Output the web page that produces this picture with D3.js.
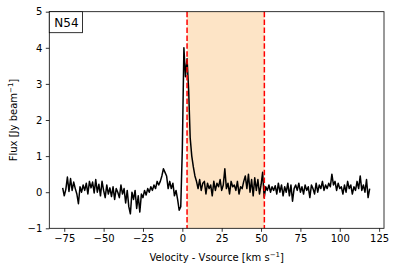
<!DOCTYPE html>
<html><head><meta charset="utf-8">
<script src="https://cdn.jsdelivr.net/npm/d3@7"></script>
<style>body{margin:0;background:#fff}svg{display:block;font-family:"DejaVu Sans",sans-serif}</style>
</head><body><svg id="c" width="395" height="272"></svg>
<script>
const velocity = [-76,-75,-74,-73,-72,-71,-70,-69,-68,-67,-66,-65,-64,-63,-62,-61,-60,-59,-58,-57,-56,-55,-54,-53,-52,-51,-50,-49,-48,-47,-46,-45,-44,-43,-42,-41,-40,-39,-38,-37,-36,-35,-34,-33,-32,-31,-30,-29,-28,-27,-26,-25,-24,-23,-22,-21,-20,-19,-18,-17,-16,-15,-14,-13,-12,-11,-10,-9,-8,-7,-6,-5,-4,-3,-2,-1,0,1,2,3,4,5,6,7,8,9,10,11,12,13,14,15,16,17,18,19,20,21,22,23,24,25,26,27,28,29,30,31,32,33,34,35,36,37,38,39,40,41,42,43,44,45,46,47,48,49,50,51,52,53,54,55,56,57,58,59,60,61,62,63,64,65,66,67,68,69,70,71,72,73,74,75,76,77,78,79,80,81,82,83,84,85,86,87,88,89,90,91,92,93,94,95,96,97,98,99,100,101,102,103,104,105,106,107,108,109,110,111,112,113,114,115,116,117,118,119];
const flux = [0.12,-0.1,0.08,0.42,0.02,0.38,0.05,0.28,0.1,-0.05,
-0.32,0.15,0.0,0.2,0.05,0.25,-0.05,0.3,0.12,0.28,
-0.02,0.35,0.0,0.22,-0.1,0.3,0.05,-0.15,0.2,-0.05,
0.12,-0.12,0.15,-0.2,0.1,0.0,-0.15,0.2,-0.05,0.1,
-0.3,0.05,-0.4,-0.6,0.0,-0.2,0.05,-0.45,-0.1,-0.55,
-0.05,-0.15,0.05,-0.08,0.1,0.0,0.15,0.05,0.2,0.1,
0.3,0.2,0.3,0.45,0.65,0.55,0.45,0.1,0.3,0.1,
0.25,-0.1,0.05,-0.2,-0.5,-0.4,1.2,4.0,3.2,3.7,
2.85,1.5,1.0,0.7,0.45,0.3,0.1,0.35,0.05,0.25,
0.3,-0.05,0.25,0.1,0.2,-0.1,0.3,0.05,0.25,0.15,
0.35,0.05,0.2,0.65,0.1,0.25,-0.05,0.3,0.15,0.2,
0.05,0.3,-0.05,0.15,0.1,0.3,0.45,0.1,0.5,0.0,
0.35,-0.1,0.4,0.05,0.35,-0.05,0.2,0.55,-0.15,0.15,
0.05,0.2,0.0,0.15,0.05,0.18,-0.05,0.25,0.0,0.2,
-0.1,0.15,0.0,0.25,-0.1,0.2,-0.25,0.1,0.2,0.05,
0.25,0.0,0.15,-0.05,0.2,0.05,0.15,-0.15,0.2,0.1,
-0.05,0.25,0.0,0.2,0.1,0.3,0.05,0.2,0.1,0.25,
0.15,0.5,0.2,0.3,0.05,0.25,0.1,0.15,-0.05,0.2,
0.0,0.3,0.1,0.2,-0.05,0.15,0.05,0.3,0.1,0.45,
0.05,0.2,0.0,0.35,-0.15,0.1];
const bandRange = [3.0, 52.1];
const xTicks = [-75,-50,-25,0,25,50,75,100,125];
const yTicks = [-1,0,1,2,3,4,5];
const label = "N54";

const svg = d3.select("#c");
const L=49.3,R=384,T=11.7,B=228.3;
const x = d3.scaleLinear().domain([-84.5,128.1]).range([L,R]);
const y = d3.scaleLinear().domain([-1,5]).range([B,T]);
const fmt = d => d<0 ? "\u2212"+Math.abs(d) : String(d);

svg.append("defs").append("clipPath").attr("id","clip").append("rect")
  .attr("x",L).attr("y",T).attr("width",R-L).attr("height",B-T);

svg.append("rect").attr("x",x(bandRange[0])).attr("y",T)
  .attr("width",x(bandRange[1])-x(bandRange[0])).attr("height",B-T)
  .attr("fill","#fde4c6");

const pts = velocity.map((v,i)=>[v,flux[i]]);
svg.append("path").datum(pts).attr("clip-path","url(#clip)")
  .attr("d", d3.line().x(d=>x(d[0])).y(d=>y(d[1])))
  .attr("fill","none").attr("stroke","#000").attr("stroke-width",1.5).attr("stroke-linejoin","round");

bandRange.forEach(v=>{
  svg.append("line").attr("x1",x(v)).attr("x2",x(v)).attr("y1",T).attr("y2",B)
    .attr("stroke","#ff0000").attr("stroke-width",1.5).attr("stroke-dasharray","5.5,2.4");
});

const xa = svg.append("g").attr("transform",`translate(0,${B})`)
  .call(d3.axisBottom(x).tickValues(xTicks).tickFormat(fmt).tickSize(3.5).tickPadding(3.5));
const ya = svg.append("g").attr("transform",`translate(${L},0)`)
  .call(d3.axisLeft(y).tickValues(yTicks).tickFormat(fmt).tickSize(3.5).tickPadding(3.5));
[xa,ya].forEach(g=>{
  g.select(".domain").remove();
  g.selectAll("text").attr("font-size",10).attr("fill","#000").attr("font-family","DejaVu Sans");
  g.selectAll("line").attr("stroke","#000").attr("stroke-width",0.8);
});

svg.append("rect").attr("x",L).attr("y",T).attr("width",R-L).attr("height",B-T)
  .attr("fill","none").attr("stroke","#000").attr("stroke-width",0.8);

// label box
const boxG = svg.append("g");
const boxRect = boxG.append("rect");
const lbl = boxG.append("text").attr("x",L+5).attr("y",T+15).attr("font-size",12).text(label);
const bb = lbl.node().getBBox();
boxRect.attr("x",L).attr("y",T).attr("width",bb.width+9).attr("height",21)
  .attr("fill","#fff").attr("stroke","#000").attr("stroke-width",0.8);

const xl = svg.append("text").attr("x",(L+R)/2).attr("y",261).attr("text-anchor","middle").attr("font-size",10);
xl.append("tspan").text("Velocity - Vsource [km s");
xl.append("tspan").attr("dy",-4).attr("font-size",7).text("\u22121");
xl.append("tspan").attr("dy",4).text("]");

const yl = svg.append("text").attr("transform",`translate(17,${(T+B)/2}) rotate(-90)`).attr("text-anchor","middle").attr("font-size",10);
yl.append("tspan").text("Flux [Jy beam");
yl.append("tspan").attr("dy",-4).attr("font-size",7).text("\u22121");
yl.append("tspan").attr("dy",4).text("]");
</script></body></html>
